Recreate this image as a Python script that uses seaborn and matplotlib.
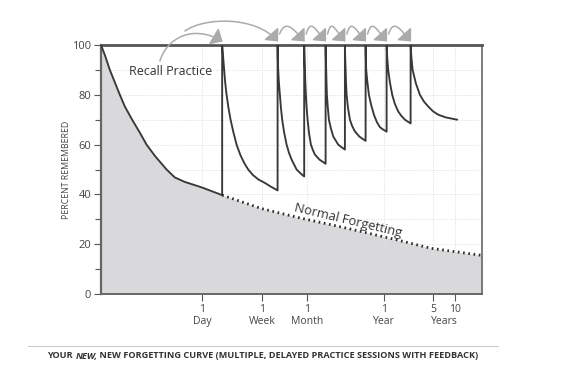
import numpy as np
import pandas as pd
import matplotlib
matplotlib.use("Agg")
import matplotlib.pyplot as plt
import seaborn as sns
from matplotlib.patches import FancyArrowPatch
from matplotlib.path import Path
from matplotlib.transforms import IdentityTransform
from matplotlib.ticker import FixedLocator, NullLocator, NullFormatter

# ---------------- data (x in days since learning, log scale) ----------------
early_days = [0.038, 0.04302, 0.05061, 0.05953, 0.07001, 0.08233, 0.1043, 0.1339,
              0.1664, 0.2178, 0.3183, 0.4166, 0.5763, 1.0, 1.931]
early_pct = [100, 96, 90, 85, 80, 75.3, 70, 64.8, 60, 55.5, 50, 46.8, 45.0, 42.8, 39.7]

normal_days = [1.931, 6.93, 22.7, 115, 582, 1718, 8800]
normal_pct = [39.7, 34.3, 30.7, 26.3, 21.6, 18.3, 15.5]

session_days = [
    [1.931, 1.995, 2.061, 2.129, 2.228, 2.362, 2.537, 2.778, 3.081, 3.486, 3.968,
     4.488, 5.228, 6.250, 7.716, 9.372, 11.65],
    [11.65, 11.72, 11.88, 12.15, 12.55, 12.96, 13.52, 14.38, 15.60, 16.80, 18.34,
     21.57, 24.39, 27.60],
    [27.60, 27.87, 28.23, 28.60, 29.16, 29.83, 30.81, 32.14, 34.29, 36.59, 39.04,
     45.17, 55.25],
    [55.25, 55.61, 56.33, 56.88, 57.62, 59.33, 61.48, 65.61, 70.70, 83.11, 92.21, 103.3],
    [103.3, 104.3, 105.7, 107.1, 109.2, 113.8, 121.5, 130.5, 142.9, 165.3, 202.1],
    [202.1, 203.4, 206.1, 214.3, 225.0, 241.6, 264.6, 291.6, 321.4, 357.7, 399.4],
    [399.4, 407.3, 420.7, 444.6, 478.9, 522.7, 582.0, 645.6, 723.1, 869.8],
    [869.8, 892.7, 928.1, 1033, 1176, 1339, 1539, 1793, 2129, 2733, 3944],
]
session_pct = [
    [100, 95, 90, 85, 80, 75, 70, 65, 60, 55.8, 52.5, 50, 47.8, 46, 44.6, 43.1, 41.6],
    [100, 95, 90, 85, 80, 75, 70, 65, 60, 56.8, 54, 50, 48.5, 47.2],
    [100, 95, 90, 85, 80, 75, 70, 65, 60, 57.8, 56, 54, 52.3],
    [100, 95, 90, 85, 80, 75, 70, 66.5, 63.3, 60, 59, 58],
    [100, 95, 90, 85, 80, 75, 70, 67.5, 65.3, 63.2, 61.5],
    [100, 95, 90, 85, 80, 76, 72, 69, 67, 66, 65.2],
    [100, 95, 90, 85, 80, 76.3, 73.3, 71.5, 70, 68.5],
    [100, 95, 90, 84.5, 80, 77.3, 75.3, 73.4, 72, 70.9, 70],
]

tick_days = [1, 7, 30, 365, 1825, 3650]
tick_labels = ["1\nDay", "1\nWeek", "1\nMonth", "1\nYear", "5", "10"]
y_major = [0, 20, 40, 60, 80, 100]
y_minor = [10, 30, 50, 70, 90]

# ---------------- build the practice curve table ----------------
xs, ys = list(early_days), list(early_pct)
for d, p in zip(session_days, session_pct):
    xs += d
    ys += p
practice = pd.DataFrame({"days": xs, "pct": ys, "order": range(len(xs))})
normal = pd.DataFrame({"days": normal_days, "pct": normal_pct})

# ---------------- figure ----------------
sns.set_style("white")
plt.rcParams['font.family'] = ['Open Sans', 'DejaVu Sans']

W, H = 579, 392
fig = plt.figure(figsize=(W / 100, H / 100), dpi=100)
L, R, T, B = 101, 482, 45, 294
ax = fig.add_axes([L / W, 1 - B / H, (R - L) / W, (B - T) / H])

ax.set_xscale("log")
ax.set_xlim(0.038, 8800)
ax.set_ylim(0, 100)

fill_x = early_days + normal_days[1:]
fill_y = early_pct + normal_pct[1:]
ax.fill_between(fill_x, 0, fill_y, color="#d9d9db", lw=0, zorder=1)

# grid
for v in y_major[1:-1] + y_minor:
    ax.axhline(v, color="#dddddd", lw=0.7, ls=(0, (1, 1.5)), zorder=1.5)
for v in tick_days:
    ax.axvline(v, color="#dddddd", lw=0.7, ls=(0, (1, 1.5)), zorder=1.5)

sns.lineplot(data=practice, x="days", y="pct", sort=False, estimator=None,
             color="#383838", lw=1.35, ax=ax, zorder=3)
sns.lineplot(data=normal, x="days", y="pct", sort=False, estimator=None,
             color="#2a2a2a", lw=2.0, ls=(0, (0.6, 1.3)), ax=ax, zorder=3)

# axes styling
ax.xaxis.set_major_locator(FixedLocator(tick_days))
ax.xaxis.set_minor_locator(NullLocator())
ax.xaxis.set_minor_formatter(NullFormatter())
ax.set_xticklabels(tick_labels)
ax.yaxis.set_major_locator(FixedLocator(y_major))
ax.yaxis.set_minor_locator(FixedLocator(y_minor))
ax.tick_params(axis="x", which="major", direction="out", length=5, width=0.8,
               color="#555555", labelsize=7.5, labelcolor="#444444", pad=2)
ax.tick_params(axis="y", which="major", direction="out", length=5, width=0.8,
               color="#555555", labelsize=8, labelcolor="#444444", pad=2)
ax.tick_params(axis="y", which="minor", direction="out", length=4, width=0.8,
               color="#555555")
ax.tick_params(bottom=True, left=True, which="both")
for lab in ax.get_xticklabels():
    lab.set_linespacing(1.2)

for s, lw, c in [("top", 2.0, "#555555"), ("left", 1.6, "#666666"),
                 ("right", 1.2, "#666666"), ("bottom", 1.4, "#666666")]:
    ax.spines[s].set_visible(True)
    ax.spines[s].set_linewidth(lw)
    ax.spines[s].set_color(c)

ax.set_xlabel("")
ax.set_ylabel("PERCENT REMEMBERED", fontsize=6.3, color="#444444", labelpad=1)

# annotations
ax.text(0.366, 89.2, "Recall Practice", ha="center", va="center",
        fontsize=8.9, color="#333333", zorder=4)
ax.text(115, 29.4, "Normal Forgetting", ha="center", va="center",
        fontsize=9.3, color="#333333", rotation=-13.5, zorder=4)

# curved grey arrows: cubic Bezier paths, anchored to the session starts,
# offsets given in screen pixels (y measured downward from the figure top)
arrow_kw = dict(arrowstyle="-|>,head_length=0.6,head_width=0.55",
                mutation_scale=10.5, color="#ababab", lw=1.1,
                transform=IdentityTransform(), zorder=5)
starts = [s[0] for s in session_days]
sx = [ax.transData.transform((s, 100))[0] for s in starts]
lab_x = ax.transData.transform((0.366, 89.2))[0]


def arc(points):
    verts = [(px, H - py) for px, py in points]
    path = Path(verts, [Path.MOVETO, Path.CURVE4, Path.CURVE4, Path.CURVE4])
    fig.add_artist(FancyArrowPatch(path=path, **arrow_kw))


tip_y = 41.5
arc([(lab_x - 11, 61), (lab_x - 4, 38), (lab_x + 22, 24), (sx[0] + 0.5, tip_y)])
arc([(lab_x + 14, 31), (lab_x + 34, 17), (sx[1] - 22, 16), (sx[1] + 0.5, tip_y)])
for a, b in zip(sx[1:-1], sx[2:]):
    s = b - a
    arc([(a + 2, 34), (a + 0.3 * s, 18), (b - 10, 30), (b + 0.5, tip_y)])

# caption and rule
fig.add_artist(plt.Line2D([28 / W, 498 / W], [1 - 346 / H, 1 - 346 / H],
                          color="#cccccc", lw=0.8))
cap_parts = [("YOUR ", "normal"), ("NEW,", "italic"),
             (" NEW FORGETTING CURVE (MULTIPLE, DELAYED PRACTICE SESSIONS WITH FEEDBACK)", "normal")]
fig.canvas.draw()
renderer = fig.canvas.get_renderer()
texts = []
for s, st in cap_parts:
    t = fig.text(0, 1 - 356 / H, s, fontsize=6.55, fontweight="bold", style=st,
                 color="#333333", ha="left", va="center")
    texts.append(t)
widths = [t.get_window_extent(renderer).width for t in texts]
x0 = 263 - sum(widths) / 2
for t, w in zip(texts, widths):
    t.set_x(x0 / W)
    x0 += w

# "Years" shared by the 5 and 10 ticks, on the same line as "Day"
day_box = ax.get_xticklabels()[0].get_window_extent(renderer)
x_years = ax.transData.transform((np.sqrt(1825 * 3650), 0))[0]
fig.text(x_years / W, day_box.y0 / H, "Years", ha="center", va="bottom",
         fontsize=7.5, color="#444444")

fig.savefig("out.png", dpi=100, facecolor="white")
